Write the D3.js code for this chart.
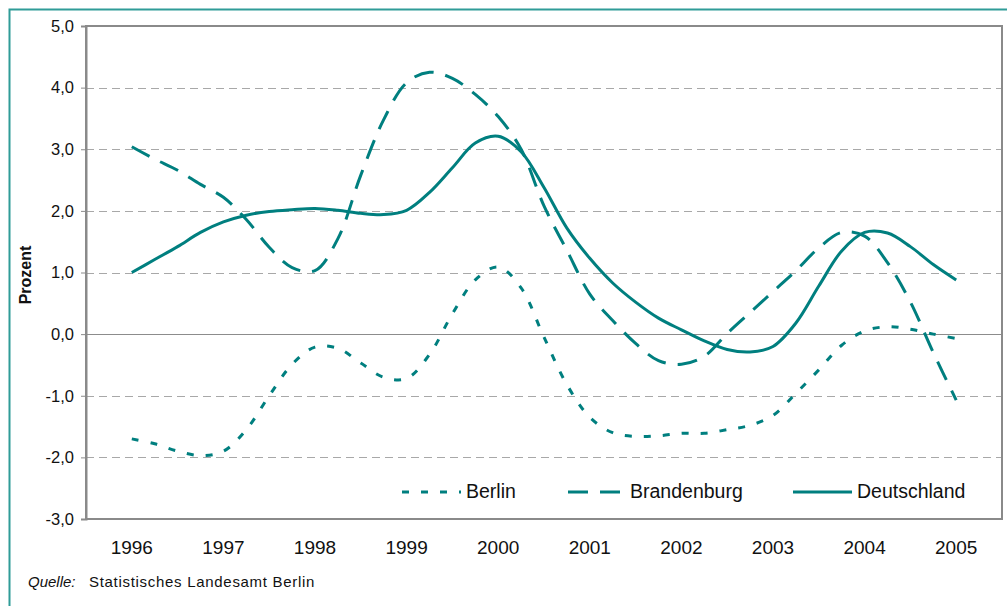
<!DOCTYPE html>
<html>
<head>
<meta charset="utf-8">
<script src="https://cdn.jsdelivr.net/npm/d3@7"></script>
<style>
    body { margin: 0; background: #fff; }
    svg { display: block; font-family: Arial, "Liberation Sans", sans-serif; }
</style>
</head>
<body>
<svg id="chart" width="1007" height="606"></svg>
<script>
// year labels on the x axis
const years = [1996, 1997, 1998, 1999, 2000, 2001, 2002, 2003, 2004, 2005];
const yTicks = [5, 4, 3, 2, 1, 0, -1, -2, -3];

// quarterly values, 1996 Q1 .. 2005 Q1
const berlin = [-1.70, -1.78, -1.90, -1.97, -1.90, -1.55, -1.00, -0.49, -0.21, -0.23,
    -0.47, -0.70, -0.72, -0.33, 0.33, 0.88, 1.09, 0.75, -0.05, -0.82,
    -1.35, -1.60, -1.66, -1.65, -1.61, -1.61, -1.55, -1.48, -1.32, -0.96,
    -0.58, -0.18, 0.05, 0.12, 0.08, 0.00, -0.07];
const brandenburg = [3.04, 2.84, 2.66, 2.43, 2.22, 1.86, 1.41, 1.08, 1.03, 1.55,
    2.58, 3.48, 4.08, 4.25, 4.15, 3.89, 3.53, 3.00, 2.08, 1.36,
    0.65, 0.22, -0.15, -0.43, -0.49, -0.36, 0.01, 0.35, 0.69, 1.03,
    1.40, 1.65, 1.59, 1.16, 0.52, -0.30, -1.07];
const deutschland = [1.00, 1.21, 1.42, 1.65, 1.82, 1.93, 1.99, 2.02, 2.04, 2.01,
    1.96, 1.94, 2.01, 2.30, 2.70, 3.10, 3.21, 2.96, 2.38, 1.72,
    1.23, 0.83, 0.52, 0.26, 0.07, -0.11, -0.25, -0.29, -0.20, 0.18,
    0.78, 1.35, 1.65, 1.64, 1.42, 1.13, 0.88];

const seriesNames = ["Berlin", "Brandenburg", "Deutschland"];

const teal = "#007f7f";
const plot = {left: 86, right: 1002, top: 26, bottom: 519};

const series = [
    {name: seriesNames[0], values: berlin, dash: "7,12"},
    {name: seriesNames[1], values: brandenburg, dash: "20,12"},
    {name: seriesNames[2], values: deutschland, dash: null}
];

const svg = d3.select("#chart");

// outer frame
svg.append("rect")
    .attr("x", 9.5).attr("y", 9.5)
    .attr("width", 1010).attr("height", 610)
    .attr("fill", "none")
    .attr("stroke", "#2f9c98")
    .attr("stroke-width", 2);

const x = d3.scaleLinear()
    .domain([years[0] - 0.5, years[years.length - 1] + 0.5])
    .range([plot.left, plot.right]);
const y = d3.scaleLinear()
    .domain([-3, 5])
    .range([plot.bottom, plot.top]);

// grid lines
svg.append("g")
    .selectAll("line")
    .data(yTicks.filter(d => d !== 5 && d !== -3))
    .enter().append("line")
    .attr("x1", plot.left).attr("x2", plot.right)
    .attr("y1", d => Math.round(y(d)) + 0.5)
    .attr("y2", d => Math.round(y(d)) + 0.5)
    .attr("stroke", d => d === 0 ? "#8c8c8c" : "#a8a8a8")
    .attr("stroke-width", 1)
    .attr("stroke-dasharray", d => d === 0 ? null : "8,5");

// plot border
svg.append("rect")
    .attr("x", plot.left).attr("y", plot.top)
    .attr("width", plot.right - plot.left)
    .attr("height", plot.bottom - plot.top)
    .attr("fill", "none")
    .attr("stroke", "#8a8a8a")
    .attr("stroke-width", 2);

// y axis
const yAxis = d3.axisLeft(y)
    .tickValues(yTicks)
    .tickSize(5)
    .tickPadding(7)
    .tickFormat(d => d3.format(".1f")(d).replace(".", ",").replace("−", "-"));
const yg = svg.append("g")
    .attr("transform", "translate(" + plot.left + ",0)")
    .call(yAxis);
yg.select(".domain").attr("stroke", "#8a8a8a").attr("stroke-width", 2);
yg.selectAll(".tick line").attr("stroke", "#8a8a8a");
yg.selectAll(".tick text")
    .attr("font-size", "16.5px")
    .attr("font-family", "Arial, 'Liberation Sans', sans-serif")
    .attr("fill", "#111");

// x labels
svg.append("g")
    .selectAll("text")
    .data(years)
    .enter().append("text")
    .attr("x", d => x(d))
    .attr("y", 554)
    .attr("text-anchor", "middle")
    .attr("font-size", "19px")
    .attr("fill", "#111")
    .text(d => d);

// y title
svg.append("text")
    .attr("transform", "translate(31,275) rotate(-90)")
    .attr("text-anchor", "middle")
    .attr("font-size", "16px")
    .attr("font-weight", "bold")
    .attr("fill", "#111")
    .text("Prozent");

// lines
const line = d3.line()
    .x((d, i) => x(years[0] + i / 4))
    .y(d => y(d))
    .curve(d3.curveCatmullRom.alpha(0.5));

svg.append("g")
    .selectAll("path")
    .data(series)
    .enter().append("path")
    .attr("d", d => line(d.values))
    .attr("fill", "none")
    .attr("stroke", teal)
    .attr("stroke-width", 3)
    .attr("stroke-dasharray", d => d.dash);

// legend
const legendItems = [
    {x1: 402, x2: 461, tx: 466},
    {x1: 568, x2: 623, tx: 630},
    {x1: 793, x2: 852, tx: 857}
];
const lg = svg.append("g")
    .selectAll("g")
    .data(series)
    .enter().append("g");
lg.append("line")
    .attr("x1", (d, i) => legendItems[i].x1)
    .attr("x2", (d, i) => legendItems[i].x2)
    .attr("y1", 492).attr("y2", 492)
    .attr("stroke", teal)
    .attr("stroke-width", 3)
    .attr("stroke-dasharray", d => d.dash);
lg.append("text")
    .attr("x", (d, i) => legendItems[i].tx)
    .attr("y", 498)
    .attr("font-size", "19.5px")
    .attr("fill", "#111")
    .text(d => d.name);

// source note
const src = svg.append("text")
    .attr("x", 28)
    .attr("y", 587)
    .attr("font-size", "15px")
    .attr("fill", "#111");
src.append("tspan").attr("font-style", "italic").text("Quelle:");
src.append("tspan").attr("x", 89).attr("letter-spacing", "0.7px").text("Statistisches Landesamt Berlin");
</script>
</body>
</html>
